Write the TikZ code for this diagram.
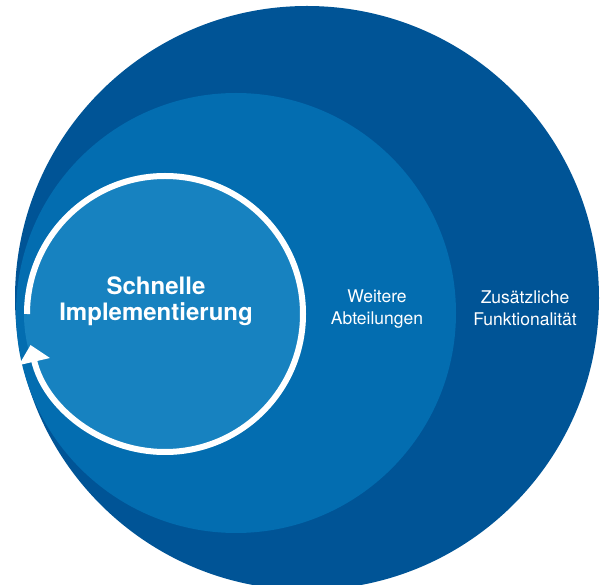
\documentclass[tikz,border=0pt]{standalone}
\usepackage{fontspec}
\setmainfont{TeX Gyre Heros}
\usetikzlibrary{arrows.meta}
\begin{document}
\begin{tikzpicture}[x=1pt,y=1pt]
\useasboundingbox (0,0) rectangle (600,584);
\pgfmathsetmacro\ringr{138};
\definecolor{outerblue}{RGB}{0,84,150}
\definecolor{midblue}{RGB}{3,109,176}
\definecolor{innerblue}{RGB}{23,130,192}
\tikzset{label text/.style = {text = white, align = center, font = \fontsize{17.5}{22}\selectfont}}
\clip (0,0) rectangle (600,584);
\fill [outerblue] (307,286) circle (292);
\fill [midblue] (236,271) circle (220);
\fill [innerblue] (165,270) circle (\ringr+3);
\draw [white, line width = 6, -{Triangle[length = 17, width = 31]}] (165,270) ++(180:\ringr) arc (180:-167:\ringr);
\node (quick) at (156,283) [text = white, align = center, font = \bfseries\fontsize{24}{26}\selectfont] {Schnelle\\Implementierung};
\node (depts) at (377,274.5) [label text] {Weitere\\Abteilungen};
\node (extra) at (525,275.5) [label text] {Zusätzliche\\Funktionalität};
\end{tikzpicture}
\end{document}
